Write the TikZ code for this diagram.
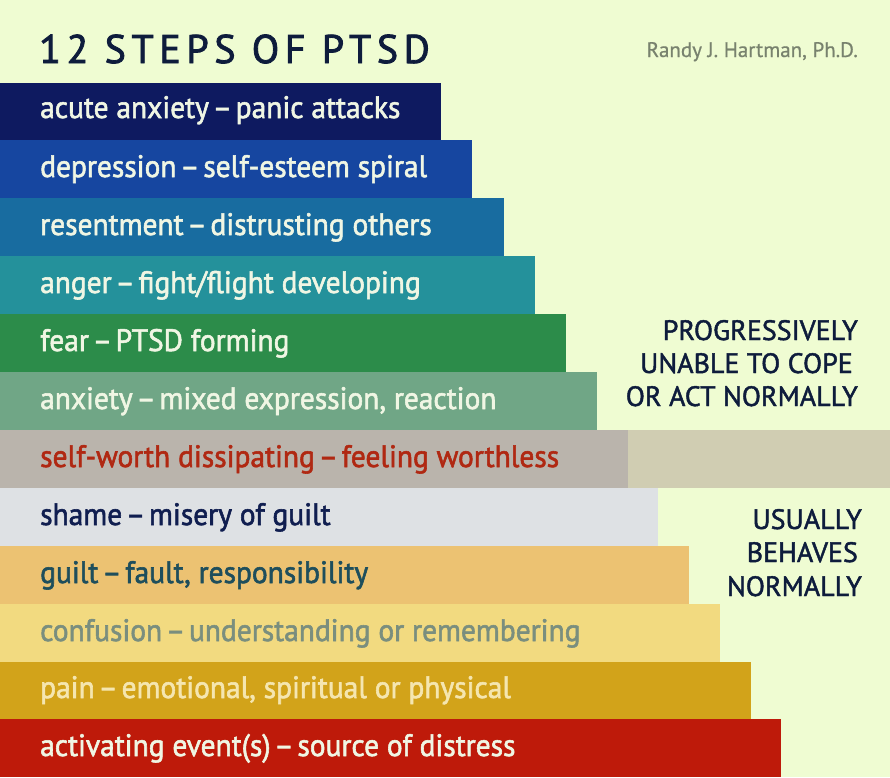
\documentclass[tikz,border=0pt]{standalone}
\usepackage{fontspec}
\setmainfont[FakeStretch=0.95,FakeBold=1.8]{PT Sans}
\newfontfamily\titlefont[LetterSpace=14,FakeBold=2]{PT Sans}
\newfontfamily\capfont[FakeBold=1.6]{PT Sans}
\newfontfamily\authfont[FakeBold=0.6]{PT Sans}
\newcommand{\dsh}{\hspace{0.12em}–\hspace{0.12em}}
\definecolor{bgc}{RGB}{239,252,210}
\definecolor{cA}{RGB}{14,26,96}
\definecolor{cB}{RGB}{22,70,160}
\definecolor{cC}{RGB}{24,108,160}
\definecolor{cD}{RGB}{36,145,155}
\definecolor{cE}{RGB}{44,140,74}
\definecolor{cF}{RGB}{112,166,134}
\definecolor{cG}{RGB}{186,180,172}
\definecolor{cGx}{RGB}{208,205,178}
\definecolor{cH}{RGB}{222,225,228}
\definecolor{cI}{RGB}{236,194,114}
\definecolor{cJ}{RGB}{242,218,128}
\definecolor{cK}{RGB}{210,163,26}
\definecolor{cL}{RGB}{190,26,10}
\definecolor{tW}{RGB}{240,246,228}
\definecolor{tRed}{RGB}{176,40,18}
\definecolor{tNavy}{RGB}{16,30,80}
\definecolor{tTeal}{RGB}{30,78,92}
\definecolor{tGrey}{RGB}{122,142,126}
\definecolor{tPale}{RGB}{245,230,176}
\definecolor{ink}{RGB}{14,28,60}
\definecolor{auth}{RGB}{120,130,110}
\begin{document}
\begin{tikzpicture}[x=1pt,y=-1pt,
  lbl/.style={anchor=base west,inner sep=0pt,font=\fontsize{31}{34}\selectfont},
  side/.style={anchor=base east,inner sep=0pt,text=ink,
    font=\capfont\fontsize{28}{33}\selectfont}]
\useasboundingbox (0,0) rectangle (890,777);
\fill[bgc] (0,0) rectangle (890,777);
% bars
\fill[cA] (0,83) rectangle (441,140);
\fill[cB] (0,140) rectangle (472,198);
\fill[cC] (0,198) rectangle (504,256);
\fill[cD] (0,256) rectangle (535,314);
\fill[cE] (0,314) rectangle (566,372);
\fill[cF] (0,372) rectangle (597,430);
\fill[cGx] (628,430) rectangle (890,488);
\fill[cG] (0,430) rectangle (628,488);
\fill[cH] (0,488) rectangle (658,546);
\fill[cI] (0,546) rectangle (689,604);
\fill[cJ] (0,604) rectangle (720,662);
\fill[cK] (0,662) rectangle (751,719);
\fill[cL] (0,719) rectangle (781,777);
% labels
\node[lbl,text=tW] (s12) at (40,118) {acute anxiety\dsh panic attacks};
\node[lbl,text=tW] (s11) at (40,177) {depression\dsh self-esteem spiral};
\node[lbl,text=tW] (s10) at (40,235) {resentment\dsh distrusting others};
\node[lbl,text=tW] (s9) at (40,293) {anger\dsh fight/flight developing};
\node[lbl,text=tW] (s8) at (40,351) {fear\dsh PTSD forming};
\node[lbl,text=tW] (s7) at (40,409) {anxiety\dsh mixed expression, reaction};
\node[lbl,text=tRed] (s6) at (40,467) {self-worth dissipating\dsh feeling worthless};
\node[lbl,text=tNavy] (s5) at (40,525) {shame\dsh misery of guilt};
\node[lbl,text=tTeal] (s4) at (40,583) {guilt\dsh fault, responsibility};
\node[lbl,text=tGrey] (s3) at (40,641) {confusion\dsh understanding or remembering};
\node[lbl,text=tPale] (s2) at (40,698) {pain\dsh emotional, spiritual or physical};
\node[lbl,text=tW] (s1) at (40,756) {activating event(s)\dsh source of distress};
% title and author
\node[anchor=base west,inner sep=0pt,text=ink,font=\titlefont\fontsize{40}{42}\selectfont] (title) at (39,63) {12 STEPS OF PTSD};
\node[anchor=base east,inner sep=0pt,text=auth,font=\authfont\fontsize{21}{24}\selectfont] (author) at (858,57) {Randy J. Hartman, Ph.D.};
% side notes
\node[side] (p1) at (858,340) {PROGRESSIVELY};
\node[side] (p2) at (853,373) {UNABLE TO COPE};
\node[side] (p3) at (858,406) {OR ACT NORMALLY};
\node[side] (u1) at (862,529) {USUALLY};
\node[side] (u2) at (858,562) {BEHAVES};
\node[side] (u3) at (862,596) {NORMALLY};
\end{tikzpicture}
\end{document}
